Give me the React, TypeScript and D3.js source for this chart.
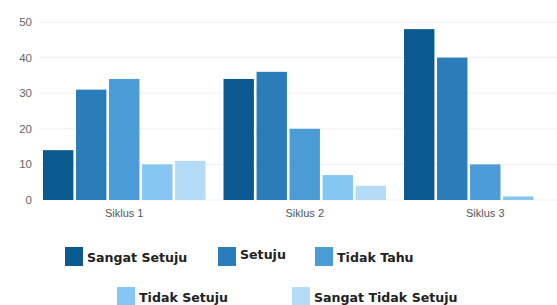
import { useEffect, useRef } from "react";
import * as d3 from "d3";

const categories = ["Siklus 1", "Siklus 2", "Siklus 3"];
const seriesNames = ["Sangat Setuju", "Setuju", "Tidak Tahu", "Tidak Setuju", "Sangat Tidak Setuju"];
const sangatSetuju = [14, 34, 48];
const setuju = [31, 36, 40];
const tidakTahu = [34, 20, 10];
const tidakSetuju = [10, 7, 1];
const sangatTidakSetuju = [11, 4, 0];
const yTicks = [0, 10, 20, 30, 40, 50];

const colors = ["#0b5a8f", "#2a7db8", "#4a9bd6", "#85c6f2", "#b5dcf7"];

function App() {
  const ref = useRef<SVGSVGElement>(null);

  useEffect(() => {
    if (!ref.current) return;
    const svg = d3.select(ref.current);
    svg.selectAll("*").remove();

    const series = [sangatSetuju, setuju, tidakTahu, tidakSetuju, sangatTidakSetuju];

    const x = d3
      .scaleBand()
      .domain(categories)
      .range([40, 569.5])
      .paddingInner(0.1)
      .paddingOuter(0.0166);

    const xSub = d3
      .scaleBand()
      .domain(seriesNames)
      .range([0, x.bandwidth()])
      .paddingInner(0.08);

    const y = d3.scaleLinear().domain([0, 50]).range([200, 22]);

    // grid
    svg
      .append("g")
      .selectAll("line")
      .data(yTicks)
      .enter()
      .append("line")
      .attr("x1", 40)
      .attr("x2", 557)
      .attr("y1", (d) => y(d))
      .attr("y2", (d) => y(d))
      .attr("stroke", "#f0f0f0")
      .attr("stroke-width", 1);

    // y labels
    svg
      .append("g")
      .selectAll("text")
      .data(yTicks)
      .enter()
      .append("text")
      .attr("x", 32)
      .attr("y", (d) => y(d) + 4)
      .attr("text-anchor", "end")
      .attr("font-family", "Liberation Sans, Arial, sans-serif")
      .attr("font-size", 11.5)
      .attr("fill", "#666")
      .text((d) => d);

    // bars
    categories.forEach((cat, ci) => {
      const g = svg.append("g").attr("transform", "translate(" + x(cat) + ",0)");
      series.forEach((vals, si) => {
        const v = vals[ci];
        if (v <= 0) return;
        g.append("rect")
          .attr("x", xSub(seriesNames[si])!)
          .attr("y", y(v))
          .attr("width", xSub.bandwidth())
          .attr("height", y(0) - y(v))
          .attr("fill", colors[si]);
      });
    });

    // x labels
    svg
      .append("g")
      .selectAll("text")
      .data(categories)
      .enter()
      .append("text")
      .attr("x", (d) => x(d)! + x.bandwidth() / 2)
      .attr("y", 217)
      .attr("text-anchor", "middle")
      .attr("font-family", "Liberation Sans, Arial, sans-serif")
      .attr("font-size", 11)
      .attr("fill", "#555")
      .text((d) => d);

    // legend
    const legendPos = [
      { x: 65, y: 247, ty: 262 },
      { x: 218, y: 247, ty: 259 },
      { x: 315, y: 247, ty: 262 },
      { x: 117, y: 287, ty: 302 },
      { x: 292, y: 287, ty: 302 },
    ];
    const legend = svg.append("g");
    seriesNames.forEach((name, i) => {
      const p = legendPos[i];
      legend
        .append("rect")
        .attr("x", p.x)
        .attr("y", p.y)
        .attr("width", 18)
        .attr("height", 19)
        .attr("fill", colors[i]);
      legend
        .append("text")
        .attr("x", p.x + 22)
        .attr("y", p.ty)
        .attr("font-family", "'DejaVu Sans', sans-serif")
        .attr("font-weight", "bold")
        .attr("font-size", 12.6)
        .attr("fill", "#222")
        .text(name);
    });
  }, []);

  return (
    <svg
      ref={ref}
      width={557}
      height={305}
      style={{ position: "absolute", left: 0, top: 0, background: "#fff" }}
    />
  );
}

export default App;
